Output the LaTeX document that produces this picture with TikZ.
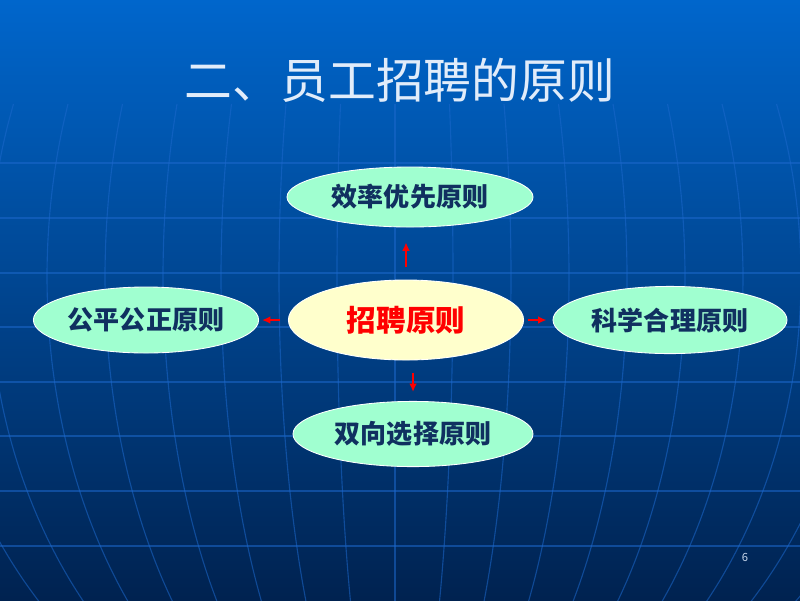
\documentclass[tikz,border=0pt]{standalone}
\usepackage{fontspec}
\setmainfont{Noto Sans CJK SC}
\usepackage{tikz}
\usetikzlibrary{arrows.meta,shapes.geometric}
\definecolor{bgtop}{RGB}{0,102,204}
\definecolor{bgmid}{RGB}{0,76,158}
\definecolor{bgbot}{RGB}{0,34,80}
\definecolor{gridc}{RGB}{28,104,204}
\definecolor{mint}{RGB}{160,255,208}
\definecolor{cream}{RGB}{255,255,204}
\definecolor{navy}{RGB}{16,48,96}
\definecolor{titlec}{RGB}{225,236,250}
\definecolor{numc}{RGB}{200,215,235}

\begin{document}
\begin{tikzpicture}[x=0.025cm,y=-0.025cm,>={Latex[length=6pt,width=5.5pt]},
  rule/.style={ellipse,draw=white,line width=0.6pt,fill=mint,text=navy,inner sep=0pt,
    font=\bfseries\fontsize{18.5}{20}\selectfont},
  link/.style={->,red,line width=1.4pt},
  gridline/.style={gridc,line width=0.8pt,opacity=0.55}]
\useasboundingbox (0,0) rectangle (800,600);
\shade[top color=bgtop,middle color=bgmid,bottom color=bgbot] (0,0) rectangle (800,600);

\begin{scope}
\clip (0,0) rectangle (800,600);
\foreach \y in {163,218,273,327,382,436,491,546}
  \draw[gridline] (0,\y) -- (800,\y);
\foreach \k in {-9,...,9}
  \draw[gridline] plot[domain=-20:45,samples=25,smooth] ({395+58*\k*cos(\x)},{277+506*sin(\x)});
\end{scope}

\node[text=titlec,font=\fontsize{34}{36}\selectfont] (title) at (400,80) {二、员工招聘的原则};

\node[ellipse,draw=white,line width=0.6pt,fill=cream,text=red,inner sep=0pt,
  minimum width=5.88cm,minimum height=2.0cm,font=\bfseries\fontsize{21}{23}\selectfont]
  (hub) at (406,320) {招聘原则};
\node[rule,minimum width=6.15cm,minimum height=1.5cm] (eff) at (410,197) {效率优先原则};
\node[rule,minimum width=5.63cm,minimum height=1.65cm] (fair) at (146,320) {公平公正原则};
\node[rule,minimum width=5.85cm,minimum height=1.68cm] (sci) at (670,320) {科学合理原则};
\node[rule,minimum width=6.0cm,minimum height=1.63cm] (mut) at (413,434) {双向选择原则};

\draw[link,shorten <=9.2pt,shorten >=10.6pt] (hub.north) -- (hub.north |- eff.south);
\draw[link,shorten <=9.2pt,shorten >=6.4pt] ([xshift=5pt]hub.south) -- ([xshift=5pt]hub.south |- mut.north);
\draw[link,shorten <=5.7pt,shorten >=2.1pt] (hub.west) -- (fair.east);
\draw[link,shorten <=2.8pt,shorten >=4.3pt] (hub.east) -- (sci.west);

\node[text=numc,font=\fontsize{8}{9}\selectfont] (pageno) at (745,557) {6};
\end{tikzpicture}
\end{document}
